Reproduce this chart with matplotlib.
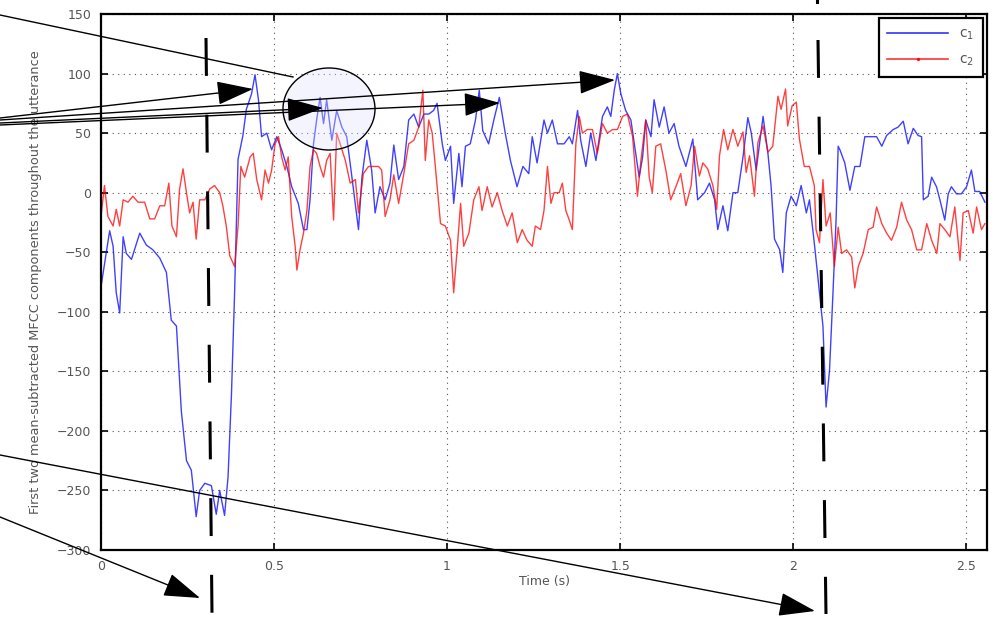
import matplotlib
matplotlib.use("Agg")
import matplotlib.pyplot as plt
from matplotlib.patches import FancyArrowPatch, Ellipse
from matplotlib.lines import Line2D

# c1 (blue)
t_c1 = [0.0, 0.025, 0.035, 0.044, 0.054, 0.064, 0.073, 0.088, 0.112, 0.131, 0.150, 0.170, 0.189,
        0.203, 0.218, 0.232, 0.247, 0.261, 0.275, 0.285, 0.300, 0.319, 0.333, 0.343, 0.357, 0.367,
        0.377, 0.386, 0.396, 0.410, 0.420,
        0.435, 0.445, 0.455, 0.464, 0.479, 0.493, 0.508, 0.522, 0.537, 0.551, 0.570, 0.585, 0.595,
        0.604, 0.614, 0.623, 0.633, 0.643, 0.652, 0.667, 0.681, 0.696, 0.710, 0.725, 0.744, 0.754,
        0.768, 0.782, 0.792, 0.806, 0.821, 0.835,
        0.846, 0.860, 0.875, 0.889, 0.904, 0.918, 0.933, 0.947, 0.961, 0.971, 0.986, 0.995, 1.010,
        1.019, 1.034, 1.043, 1.053, 1.067, 1.082, 1.093, 1.103, 1.120, 1.135, 1.151, 1.168, 1.183,
        1.202, 1.219, 1.236, 1.246, 1.260,
        1.280, 1.290, 1.304, 1.319, 1.338, 1.353, 1.362, 1.377, 1.386, 1.401, 1.415, 1.430, 1.449,
        1.463, 1.473, 1.483, 1.492, 1.502, 1.516, 1.531, 1.545, 1.555, 1.565, 1.574, 1.589, 1.598,
        1.613, 1.627, 1.641, 1.656, 1.670, 1.690,
        1.710, 1.724, 1.744, 1.758, 1.773, 1.782, 1.797, 1.811, 1.826, 1.840, 1.855, 1.869, 1.879,
        1.893, 1.913, 1.927, 1.936, 1.946, 1.961, 1.970, 1.980, 1.994, 2.009, 2.023, 2.038, 2.047,
        2.062, 2.076, 2.086, 2.095, 2.105, 2.115, 2.124,
        2.130, 2.135, 2.149, 2.164, 2.178, 2.193, 2.207, 2.227, 2.241, 2.256, 2.270, 2.289, 2.303,
        2.318, 2.332, 2.347, 2.361, 2.371, 2.376, 2.390, 2.400, 2.414, 2.424, 2.438, 2.448, 2.457,
        2.472, 2.486, 2.501, 2.515, 2.525, 2.539, 2.554]
c1 = [-79, -32, -45, -84, -101, -37, -51, -56, -34, -44, -48, -55, -67,
      -107, -112, -183, -225, -233, -272, -250, -244, -246, -270, -250, -271, -239,
      -169, -84, 28, 48, 70,
      83, 99, 78, 47, 50, 36, 47, 36, 22, 5, -9, -31, -31,
      -6, 41, 61, 80, 58, 78, 44, 69, 55, 47, 13, -31, 13,
      44, 19, -17, 5, -6, 8,
      40, 11, 22, 61, 66, 55, 66, 66, 69, 75, 41, 27, 39,
      -9, 33, 5, 39, 41, 61, 86, 52, 41, 61, 80, 50, 27,
      5, 22, 16, 47, 25,
      61, 50, 61, 41, 41, 47, 41, 69, 44, 22, 50, 27, 64,
      72, 64, 86, 100, 83, 69, 61, 33, 13, 30, 61, 47, 78,
      55, 72, 50, 58, 39, 22,
      45, -6, 0, 8, -6, -31, -11, -32, 0, 0, 30, 63, 50,
      19, 64, 33, 6, -39, -48, -67, -17, -3, -11, 6, -17, -6,
      -45, -84, -112, -180, -149, -84, -22,
      39, 36, 25, 2, 22, 22, 47, 47, 47, 39, 48, 53, 55,
      60, 41, 54, 48, 47, -6, -3, 13, 5, -6, -23, -1, 5,
      -1, -1, 5, 19, 1, 1, -8]

# c2 (red)
t_c2 = [0.0, 0.010, 0.020, 0.035, 0.044, 0.054, 0.064, 0.078, 0.092, 0.107, 0.126, 0.141, 0.155,
        0.170, 0.184, 0.196, 0.205, 0.218, 0.227, 0.237, 0.247, 0.256, 0.266, 0.275, 0.285, 0.300,
        0.314, 0.328, 0.343, 0.352, 0.362, 0.372, 0.386, 0.396, 0.404, 0.415,
        0.431, 0.440, 0.450, 0.464, 0.474, 0.484, 0.493, 0.503, 0.513, 0.522, 0.532, 0.541, 0.551,
        0.561, 0.566, 0.575, 0.585, 0.595, 0.604, 0.614, 0.623, 0.633, 0.643, 0.652, 0.662, 0.672,
        0.681, 0.691, 0.706, 0.720, 0.735, 0.744, 0.758, 0.773, 0.787, 0.802, 0.811, 0.821, 0.835,
        0.846, 0.860, 0.875, 0.889, 0.904, 0.918, 0.930, 0.937, 0.947, 0.957, 0.966, 0.981, 0.995,
        1.010, 1.019, 1.029, 1.039, 1.048, 1.063, 1.077, 1.092, 1.101, 1.116, 1.130, 1.145, 1.159,
        1.174, 1.188, 1.203, 1.217, 1.231, 1.246, 1.255, 1.270,
        1.280, 1.290, 1.300, 1.309, 1.324, 1.333, 1.343, 1.353, 1.362, 1.372, 1.382, 1.391, 1.405,
        1.420, 1.434, 1.449, 1.463, 1.478, 1.492, 1.507, 1.521, 1.536, 1.550, 1.560, 1.574, 1.584,
        1.593, 1.603, 1.617, 1.632, 1.646, 1.661, 1.675, 1.690,
        1.705, 1.715, 1.729, 1.739, 1.753, 1.768, 1.779, 1.787, 1.799, 1.811, 1.826, 1.840, 1.855,
        1.864, 1.874, 1.888, 1.898, 1.913, 1.927, 1.941, 1.956, 1.965, 1.978, 1.984, 1.997, 2.009,
        2.018, 2.032, 2.047, 2.061, 2.066, 2.076, 2.086, 2.095, 2.107, 2.119,
        2.130, 2.140, 2.154, 2.169, 2.178, 2.188, 2.202, 2.217, 2.231, 2.241, 2.256, 2.270, 2.284,
        2.299, 2.313, 2.328, 2.342, 2.357, 2.371, 2.386, 2.400, 2.415, 2.424, 2.438, 2.453, 2.467,
        2.482, 2.491, 2.506, 2.520, 2.530, 2.544, 2.554]
c2 = [-20, 6, -20, -28, -14, -28, -6, -8, -3, -8, -8, -22, -22,
      -11, -11, 8, -28, -37, 3, 20, 0, -17, -8, -39, -6, -6,
      3, 6, 0, -11, -28, -53, -62, -28, 22, 13,
      30, 33, 11, -6, 19, 8, 19, 41, 47, 30, 19, 30, -20,
      -45, -65, -48, -34, -15, 22, 36, 33, 22, 13, 27, 33, -23,
      50, 41, 27, 8, 11, -17, 16, 22, 22, 22, 19, -20, -6,
      15, -9, 16, 41, 44, 55, 86, 27, 61, 50, 22, -26, -28,
      -40, -84, -48, -9, -45, -34, -6, 5, -15, 5, -12, 0, -15,
      -28, -17, -42, -31, -40, -45, -28, -31,
      -15, 22, -9, 0, 0, 8, -15, -23, -31, 41, 64, 50, 53,
      53, 33, 58, 50, 53, 53, 64, 66, 47, -3, 27, 61, 13,
      0, 39, 41, 19, -6, 5, 16, -11,
      6, 39, 14, 25, 20, 6, -14, 31, 53, 36, 53, 39, 51,
      17, 31, -3, 42, 56, 34, 39, 81, 70, 87, 56, 73, 76,
      45, 22, 22, 6, -31, -42, 11, -28, -17, -62,
      -29, -51, -48, -54, -80, -62, -51, -31, -29, -12, -26, -34, -40,
      -29, -8, -23, -31, -48, -48, -26, -40, -51, -26, -31, -37, -12,
      -57, -17, -15, -34, -12, -31, -26]

x_ticks = [0, 0.5, 1, 1.5, 2, 2.5]
x_labels = ["0", "0.5", "1", "1.5", "2", "2.5"]
y_ticks = [-300, -250, -200, -150, -100, -50, 0, 50, 100, 150]

W, H = 996, 621
fig = plt.figure(figsize=(W / 100, H / 100), dpi=100)
ax = fig.add_axes([101 / W, 71 / H, 886 / W, 536 / H])

ax.plot(t_c1, c1, color="blue", lw=1.0, alpha=0.75)
ax.plot(t_c2, c2, color="red", lw=1.0, alpha=0.75)

ax.set_xlim(0, 2.56)
ax.set_ylim(-300, 150)
ax.set_xticks(x_ticks)
ax.set_xticklabels(x_labels)
ax.set_yticks(y_ticks)
ax.grid(True, linestyle=(0, (1, 4)), color="#555555", lw=0.8)
ax.tick_params(direction="in", length=5, width=1.2, top=True, right=True,
               labelsize=9, labelcolor="#555555", pad=7)
for s in ax.spines.values():
    s.set_linewidth(1.6)

ax.set_xlabel("Time (s)", fontsize=9, color="#555555", labelpad=2)
ax.set_ylabel("First two mean-subtracted MFCC components throughout the utterance",
              fontsize=9.3, color="#555555", labelpad=11)

handles = [Line2D([], [], color="blue", lw=1.2, alpha=0.8),
           Line2D([], [], color="red", lw=1.2, alpha=0.8, marker=".", ms=3)]
leg = ax.legend(handles, [r"$\mathregular{c_1}$", r"$\mathregular{c_2}$"], loc="upper right",
                fontsize=10, handlelength=4.4, fancybox=False, edgecolor="black", framealpha=1,
                borderaxespad=0.3, labelspacing=0.8, borderpad=0.6)
leg.get_frame().set_linewidth(1.6)
for tx in leg.get_texts():
    tx.set_color("#555555")


def fp(x, y):
    return (x / W, 1 - y / H)


# circle around the highlighted region
fig.add_artist(Ellipse(fp(329, 109), 92 / W, 82 / H, transform=fig.transFigure,
                       facecolor=(0.88, 0.88, 1.0, 0.35), edgecolor="black", lw=1.0, zorder=10))
# line ending on the circle
fig.add_artist(Line2D([0, 293 / W], [1 - 15 / H, 1 - 77 / H], transform=fig.transFigure,
                      color="black", lw=1.0, zorder=11))

# arrows
arrows = [((0, 118), (253, 89)), ((0, 120), (615, 80)), ((0, 123), (323, 108)),
          ((0, 125), (500, 103)), ((0, 455), (815, 611)), ((0, 517), (200, 598))]
for a, b in arrows:
    fig.add_artist(FancyArrowPatch(fp(*a), fp(*b), transform=fig.transFigure,
                                   arrowstyle="-|>,head_length=23,head_width=7.5",
                                   color="black", lw=1.0, shrinkA=0, shrinkB=0, zorder=12))

# dashed vertical markers
for (x0, y0), (x1, y1) in [((206, 38), (212, 614)), ((818, 40), (826, 614))]:
    fig.add_artist(Line2D([x0 / W, x1 / W], [1 - y0 / H, 1 - y1 / H], transform=fig.transFigure,
                          color="black", lw=2.2, linestyle=(0, (12.4, 12.7)), zorder=12))
fig.add_artist(Line2D([817 / W, 817 / W], [1, 1 - 2 / H], transform=fig.transFigure,
                      color="black", lw=2.2, zorder=12))

fig.savefig("out.png", dpi=100)
